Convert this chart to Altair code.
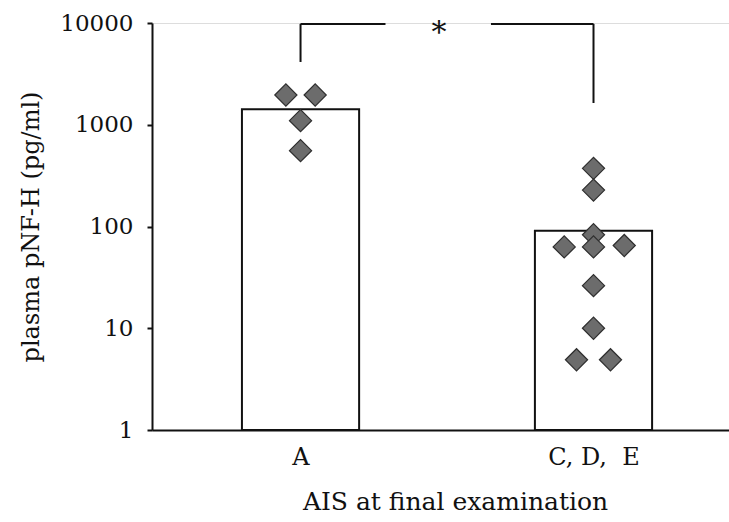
import json
import altair as alt
import pandas as pd

# ---- data ----
categories = ["A", "C, D,\u00a0\u00a0E"]
bar_means = [1420, 91]

a_values = [1960, 1960, 1096, 556]
a_jitter = [-0.05, 0.05, 0.0, 0.0]
cde_values = [373, 228, 83, 63, 63, 65, 26.2, 10, 4.9, 4.9]
cde_jitter = [0.0, 0.0, 0.0, 0.0, -0.10, 0.105, 0.0, 0.0, -0.058, 0.058]

y_ticks = [1, 10, 100, 1000, 10000]
significance = "*"

FONT = "DejaVu Serif"
INK = "#111111"

bars = pd.DataFrame({
    "idx": [0, 1],
    "cat": categories,
    "mean": bar_means,
    "base": [1, 1],
})
bars["left"] = bars["idx"] - 0.2
bars["right"] = bars["idx"] + 0.2

pts = pd.DataFrame({
    "idx": [0] * len(a_values) + [1] * len(cde_values),
    "value": a_values + cde_values,
    "jit": a_jitter + cde_jitter,
})
pts["xpos"] = pts["idx"] + pts["jit"]

# significance bracket (in data coordinates)
bracket_top = 9800
bracket = pd.DataFrame({
    "x": [0, 0, 0.65, 1.0],
    "x2": [0, 0.29, 1.0, 1.0],
    "y": [bracket_top, bracket_top, bracket_top, bracket_top],
    "y2": [4140, bracket_top, bracket_top, 1636],
})
star = pd.DataFrame({"x": [0.473], "y": [bracket_top], "t": [significance]})

xscale = alt.Scale(domain=[-0.507, 1.4625], nice=False, zero=False)
yscale = alt.Scale(type="log", domain=[1, 10000], nice=False)

label_expr = "datum.value < 0.5 ? " + json.dumps(categories[0]) + " : " + json.dumps(categories[1])

x_axis = alt.Axis(
    title="AIS at final examination",
    values=[0, 1],
    labelExpr=label_expr,
    ticks=False,
    grid=False,
    domainColor=INK,
    domainWidth=2,
    labelFont=FONT,
    labelFontSize=24,
    labelColor=INK,
    labelPadding=15,
    titleFont=FONT,
    titleFontSize=25,
    titleFontWeight="normal",
    titleColor=INK,
    titlePadding=20,
    titleX=303,
)
y_axis = alt.Axis(
    title="plasma pNF-H (pg/ml)",
    values=y_ticks,
    format="d",
    grid=False,
    tickSize=5,
    tickWidth=2,
    tickColor=INK,
    domainColor=INK,
    domainWidth=2,
    labelFont=FONT,
    labelFontSize=23,
    labelColor=INK,
    labelPadding=14,
    titleFont=FONT,
    titleFontSize=24,
    titleFontWeight="normal",
    titleColor=INK,
    titlePadding=16,
)

bar_layer = alt.Chart(bars).mark_bar(fill="white", stroke=INK, strokeWidth=2).encode(
    x=alt.X("left:Q", scale=xscale, axis=x_axis),
    x2="right:Q",
    y=alt.Y("mean:Q", scale=yscale, axis=y_axis),
    y2="base:Q",
)

pt_layer = alt.Chart(pts).mark_point(
    shape="diamond", size=490, filled=True, fill="#6c6c6c", stroke="#2e2e2e", strokeWidth=1.2, opacity=1
).encode(
    x=alt.X("xpos:Q", scale=xscale),
    y=alt.Y("value:Q", scale=yscale),
)

bracket_layer = alt.Chart(bracket).mark_rule(color=INK, strokeWidth=2).encode(
    x=alt.X("x:Q", scale=xscale),
    x2="x2:Q",
    y=alt.Y("y:Q", scale=yscale),
    y2="y2:Q",
)

star_layer = alt.Chart(star).mark_text(font=FONT, fontSize=30, color=INK, baseline="middle", dy=9).encode(
    x=alt.X("x:Q", scale=xscale),
    y=alt.Y("y:Q", scale=yscale),
    text="t:N",
)

chart = alt.layer(bar_layer, pt_layer, bracket_layer, star_layer).properties(
    width=577,
    height=407,
    autosize=alt.AutoSizeParams(type="none"),
    padding={"left": 152, "top": 23, "right": 0, "bottom": 92},
).configure_view(strokeWidth=0).configure(background="white")

chart.save("out.html", embed_options={"renderer": "svg", "actions": False})
